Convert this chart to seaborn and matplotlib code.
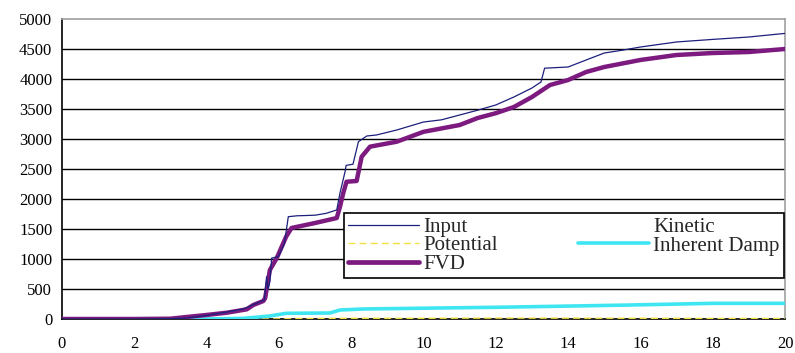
import matplotlib
matplotlib.use("Agg")
import matplotlib.pyplot as plt
from matplotlib.lines import Line2D
import seaborn as sns
import pandas as pd

# Cumulative energy components over time
input_t = [0, 2, 3, 3.5, 4, 4.5, 5, 5.3, 5.6, 5.66, 5.7, 5.75, 5.8, 5.98, 6.15, 6.26,
           6.5, 7.0, 7.3, 7.6, 7.69, 7.83, 7.86, 8.05, 8.2, 8.43, 8.7, 9.26, 10, 10.5,
           11, 11.5, 12, 12.5, 13, 13.25, 13.35, 14, 14.5, 15, 15.5, 16, 17, 18, 19, 20]
input_e = [0, 0, 5, 20, 60, 110, 165, 240, 320, 705, 500, 620, 1015, 1040, 1250, 1705,
           1720, 1730, 1760, 1817, 2100, 2455, 2560, 2580, 2955, 3050, 3067, 3150, 3283, 3320,
           3400, 3480, 3567, 3700, 3850, 3950, 4180, 4200, 4317, 4433, 4480, 4533, 4617, 4660, 4700, 4760]

fvd_t = [0, 2, 3, 3.36, 4.0, 4.56, 5.11, 5.29, 5.57, 5.62, 5.75, 5.94, 6.2, 6.35, 7.0,
         7.6, 7.69, 7.78, 7.87, 8.15, 8.29, 8.52, 9.26, 10, 11, 11.5, 12, 12.5, 13, 13.5,
         14, 14.5, 15, 16, 17, 18, 19, 20]
fvd_e = [0, 0, 5, 28, 67, 105, 161, 233, 300, 350, 817, 1015, 1372, 1517, 1600,
         1683, 1872, 2100, 2288, 2300, 2705, 2872, 2955, 3120, 3233, 3350, 3430, 3533, 3700, 3900,
         3983, 4117, 4200, 4317, 4400, 4433, 4450, 4500]

damp_t = [0, 4, 5, 5.75, 6.2, 7.41, 7.69, 8.33, 10, 12, 14, 15.7, 18, 20]
damp_e = [0, 0, 10, 50, 95, 100, 150, 167, 180, 195, 215, 233, 261, 261]

pot_t = [0, 6, 6.5, 8, 10, 12, 14, 16, 18, 20]
pot_e = [0, 2, 8, 12, 12, 15, 14, 12, 10, 8]

kin_t = [0, 6, 8, 10, 14, 20]
kin_e = [0, 3, 5, 4, 4, 3]

x_ticks = list(range(0, 21, 2))
y_ticks = list(range(0, 5001, 500))

sns.set_style("white")
plt.rcParams["font.family"] = ["Liberation Serif", "DejaVu Serif"]

fig = plt.figure(figsize=(7.95, 3.53), dpi=100)
ax = fig.add_axes([62 / 795, 1 - 319 / 353, 723 / 795, 300 / 353])

for y in y_ticks[1:-1]:
    ax.axhline(y, color="black", lw=1.0, zorder=1)

series = [
    ("Kinetic", kin_t, kin_e, dict(color="white", lw=0.8, zorder=2)),
    ("Potential", pot_t, pot_e, dict(color="#f0e040", lw=1.0, dashes=(5, 3), zorder=3)),
    ("Inherent Damp", damp_t, damp_e, dict(color="#3ee6f2", lw=2.6, zorder=3)),
    ("FVD", fvd_t, fvd_e, dict(color="#7d1a80", lw=3.2, zorder=4)),
    ("Input", input_t, input_e, dict(color="#1c1f7c", lw=0.9, zorder=5)),
]
for name, t, e, kw in series:
    df = pd.DataFrame({"t": t, "e": e})
    sns.lineplot(data=df, x="t", y="e", ax=ax, estimator=None, sort=False,
                 legend=False, **kw)

ax.set_xlim(0, 20)
ax.set_ylim(0, 5000)
ax.set_xticks(x_ticks)
ax.set_yticks(y_ticks)
ax.set_xlabel("")
ax.set_ylabel("")
ax.tick_params(axis="both", labelsize=12, length=4, width=1, colors="black",
               direction="out", pad=3)
ax.tick_params(axis="x", pad=8)
ax.spines["left"].set_color("black")
ax.spines["bottom"].set_color("black")
ax.spines["top"].set_color("#a0a0a0")
ax.spines["right"].set_color("#a0a0a0")
for s in ax.spines.values():
    s.set_linewidth(1.2)

handles = [
    Line2D([], [], color="#1c1f7c", lw=0.9),
    Line2D([], [], color="#f0e040", lw=1.0, dashes=(5, 3)),
    Line2D([], [], color="#7d1a80", lw=3.4, solid_capstyle="round"),
    Line2D([], [], color="white", lw=0.8),
    Line2D([], [], color="#3ee6f2", lw=2.6),
    Line2D([], [], color="none"),
]
labels = ["Input", "Potential", "FVD", "Kinetic", "Inherent Damp", ""]
leg_left = (344 - 62) / 723
leg_bottom = (319 - 278) / 300
leg_width = (784 - 344) / 723
leg = ax.legend(handles, labels, ncol=2, loc="lower left", mode="expand",
                bbox_to_anchor=(leg_left, leg_bottom, leg_width, 0.2),
                borderaxespad=0, fontsize=15, handlelength=3.4, handletextpad=0.2,
                columnspacing=3.3, labelspacing=-0.06, borderpad=0.2,
                frameon=True, fancybox=False, framealpha=1, edgecolor="black")
leg.get_frame().set_linewidth(1.2)
leg.set_zorder(6)

fig.savefig("out.png", dpi=100)
